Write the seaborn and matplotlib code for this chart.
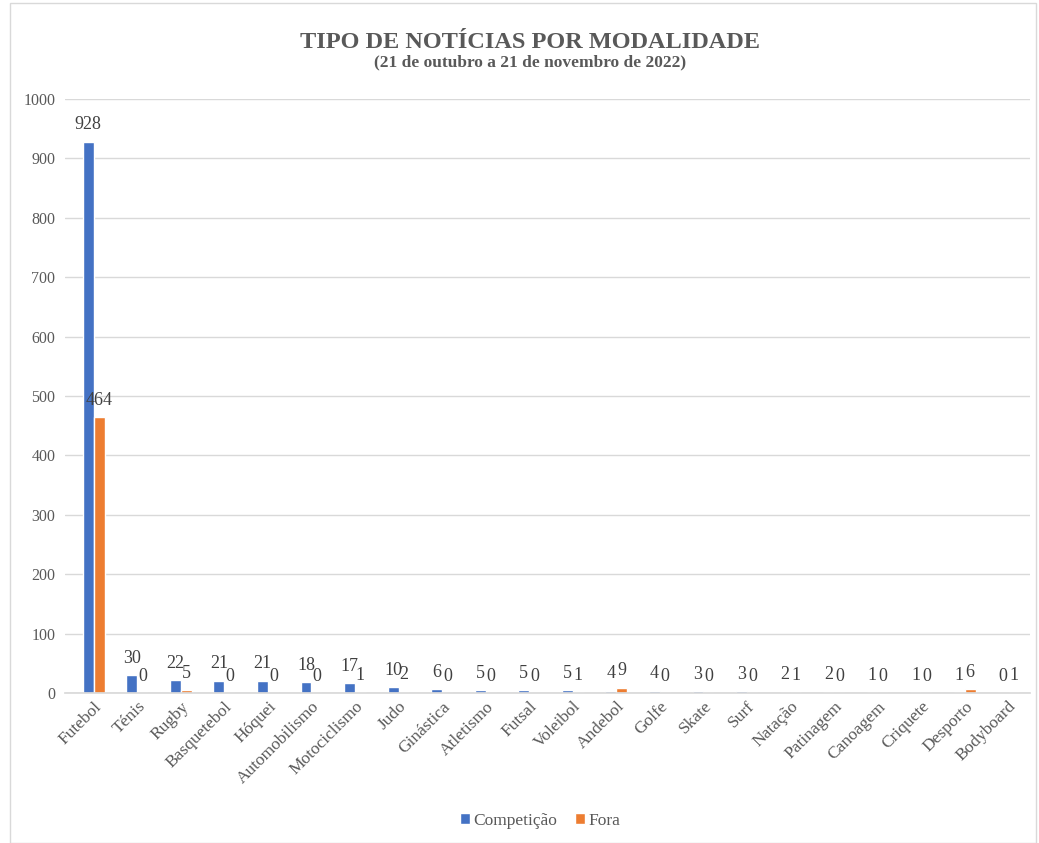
import pandas as pd
import seaborn as sns
import matplotlib.pyplot as plt
from matplotlib.patches import Rectangle

# --- dados ---
modalidades = ["Futebol", "Ténis", "Rugby", "Basquetebol", "Hóquei", "Automobilismo",
               "Motociclismo", "Judo", "Ginástica", "Atletismo", "Futsal", "Voleibol",
               "Andebol", "Golfe", "Skate", "Surf", "Natação", "Patinagem", "Canoagem",
               "Criquete", "Desporto", "Bodyboard"]
competicao = [928, 30, 22, 21, 21, 18, 17, 10, 6, 5, 5, 5, 4, 4, 3, 3, 2, 2, 1, 1, 1, 0]
fora = [464, 0, 5, 0, 0, 0, 1, 2, 0, 0, 0, 1, 9, 0, 0, 0, 1, 0, 0, 0, 6, 1]
series = ["Competição", "Fora"]
cores = ["#4472C4", "#ED7D31"]

df = pd.DataFrame({
    "Modalidade": modalidades * 2,
    "Tipo": [series[0]] * len(modalidades) + [series[1]] * len(modalidades),
    "Valor": competicao + fora,
})

sns.set_theme(style="white")
plt.rcParams["font.family"] = ["Liberation Serif", "DejaVu Sans"]

fig = plt.figure(figsize=(10.39, 8.43), dpi=100)
ax = fig.add_axes([65 / 1039, 1 - 693 / 843, (1030 - 65) / 1039, (693 - 99) / 843])

sns.barplot(data=df, x="Modalidade", y="Valor", hue="Tipo", palette=cores,
            width=0.5, saturation=1, ax=ax, legend=True)

for cont in ax.containers:
    ax.bar_label(cont, fontsize=13, color="#404040", padding=6)

ax.set_ylim(0, 1000)
ax.set_yticks(range(0, 1001, 100))
ax.yaxis.grid(True, color="#D9D9D9", linewidth=1)
ax.set_axisbelow(True)
for s in ["top", "right", "left"]:
    ax.spines[s].set_visible(False)
ax.spines["bottom"].set_color("#D9D9D9")
ax.set_xlim(-0.66, len(modalidades) - 0.5)
ax.set_xlabel("")
ax.set_ylabel("")
ax.tick_params(axis="y", labelsize=11.5, labelcolor="#595959", length=0, pad=7)
ax.tick_params(axis="x", labelsize=12.5, labelcolor="#595959", length=0, pad=4)
plt.setp(ax.get_xticklabels(), rotation=45, ha="right", rotation_mode="anchor")

ax.legend(loc="center", bbox_to_anchor=(0.52, (843 - 821) / 843), bbox_transform=fig.transFigure,
          ncol=2, frameon=False, fontsize=12.5, handlelength=0.6, handleheight=0.6,
          columnspacing=1.0, handletextpad=0.2, labelcolor="#595959")

fig.text(0.51, 1 - 42 / 843, "TIPO DE NOTÍCIAS POR MODALIDADE", ha="center", va="center",
         fontsize=17.5, fontweight="bold", color="#595959")
fig.text(0.51, 1 - 62 / 843, "(21 de outubro a 21 de novembro de 2022)", ha="center",
         va="center", fontsize=12.5, fontweight="bold", color="#595959")

fig.patches.append(Rectangle((10 / 1039, 0.0), 1026 / 1039, 0.997, transform=fig.transFigure,
                             fill=False, edgecolor="#D9D9D9", linewidth=1))

fig.savefig("out.png", dpi=100)
